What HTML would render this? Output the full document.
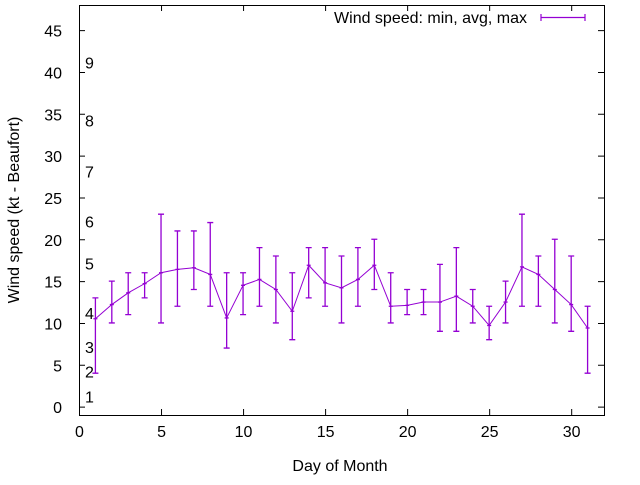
<!DOCTYPE html>
<html><head><meta charset="utf-8"><style>
body{margin:0;background:#fff;font-family:"Liberation Sans",sans-serif;}
svg text{font-family:"Liberation Sans",sans-serif;font-size:16px;fill:#000;}
</style></head><body>
<svg id="c" width="640" height="480" xmlns="http://www.w3.org/2000/svg"></svg>
<script>
const days=[1,2,3,4,5,6,7,8,9,10,11,12,13,14,15,16,17,18,19,20,21,22,23,24,25,26,27,28,29,30,31];
const avgV=[10.5,12.2,13.6,14.7,16,16.4,16.6,15.8,10.6,14.5,15.2,14,11.4,16.9,14.8,14.2,15.2,16.9,12,12.1,12.5,12.5,13.2,12,9.7,12.5,16.7,15.8,14,12.2,9.4];
const minV=[4,10,11,13,10,12,14,12,7,11,12,10,8,13,12,10,12,14,10,11,11,9,9,10,8,10,12,12,10,9,4];
const maxV=[13,15,16,16,23,21,21,22,16,16,19,18,16,19,19,18,19,20,16,14,14,17,19,14,12,15,23,18,20,18,12];
const xTicks=[0,5,10,15,20,25,30];
const yTicks=[0,5,10,15,20,25,30,35,40,45];
const bftLabels=["1","2","3","4","5","6","7","8","9"];
const bftY=[1.2,4.2,7.1,11.2,17.1,22.1,28.1,34.2,41.1];
const L=79,R=604,T=5,B=415,x0=0,x1=32,y0=-1,y1=48;
const sx=v=>L+(v-x0)/(x1-x0)*(R-L);
const sy=v=>B-(v-y0)/(y1-y0)*(B-T);
const svg=document.getElementById('c');
const NS="http://www.w3.org/2000/svg";
function mk(t,a,p){const e=document.createElementNS(NS,t);for(const k in a)e.setAttribute(k,a[k]);(p||svg).appendChild(e);return e;}
const frame=mk('rect',{x:L+.5,y:T+.5,width:R-L,height:B-T,fill:'none',stroke:'#000','stroke-width':1});


xTicks.forEach(v=>{
 const x=sx(v)+.5;
 const t=mk('path',{d:`M${x},${B}v-6M${x},${T}v6`,stroke:'#000'});
 
 
 const l=mk('text',{x:x,y:B+22,'text-anchor':'middle'});l.textContent=v;
 
 
});
yTicks.forEach(v=>{
 const y=sy(v)+.5;
 const t=mk('path',{d:`M${L},${y}h6M${R},${y}h-6`,stroke:'#000'});
 
 
 const l=mk('text',{x:L-17,y:y+6,'text-anchor':'end'});l.textContent=v;
 
 
});
bftLabels.forEach((s,i)=>{
 const l=mk('text',{x:85,y:sy(bftY[i])+6});l.textContent=s;
 
 
});
const yt=mk('text',{x:19,y:210,'text-anchor':'middle',transform:'rotate(-90 19 210)'});yt.textContent='Wind speed (kt - Beaufort)';


const xt=mk('text',{x:340,y:471,'text-anchor':'middle'});xt.textContent='Day of Month';


const col='#9400d3';
let d='';
days.forEach((dd,i)=>{d+=(i?'L':'M')+sx(dd)+','+sy(avgV[i]);});
const line=mk('path',{d:d,fill:'none',stroke:col,'stroke-width':1});


days.forEach((dd,i)=>{
 const x=sx(dd),a=sy(minV[i]),b=sy(maxV[i]);
 const e=mk('path',{d:`M${x},${a}V${b}M${x-3},${a}h6M${x-3},${b}h6M${x-2},${sy(avgV[i])}h4`,stroke:col,'stroke-width':1.3,fill:'none'});
 
 
});
const lg=mk('text',{x:527,y:23,'text-anchor':'end'});lg.textContent='Wind speed: min, avg, max';


const ls=mk('path',{d:'M541,17.5h44M541,14v7M585,14v7',stroke:col,'stroke-width':1.2});


</script>
</body></html>
